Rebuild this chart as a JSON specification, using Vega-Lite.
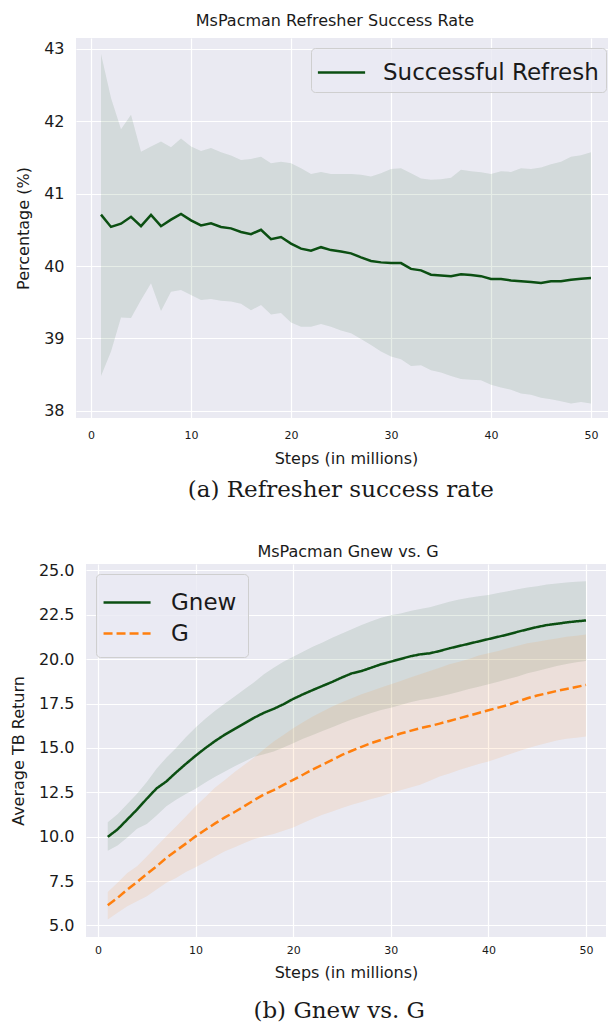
{
  "$schema": "https://vega.github.io/schema/vega-lite/v6.json",
  "background": "white",
  "padding": {"left": 10, "top": 13, "right": 0, "bottom": 0},
  "columns": 1,
  "center": true,
  "spacing": 42,
  "resolve": {
    "scale": {"x": "independent", "y": "independent", "color": "independent"},
    "axis": {"x": "independent", "y": "independent"},
    "legend": {"color": "independent"}
  },
  "config": {
    "font": "DejaVu Sans",
    "view": {"stroke": null, "fill": "#EAEAF2"},
    "axis": {"domain": false, "ticks": false, "gridColor": "#ffffff", "gridWidth": 1.2, "labelColor": "#1a1a1a", "titleColor": "#1a1a1a", "titleFontWeight": "normal", "titleFontSize": 16, "labelFontSize": 16, "labelPadding": 12, "titlePadding": 12},
    "axisX": {"labelFontSize": 11, "labelPadding": 11, "titlePadding": 10},
    "title": {"fontWeight": "normal", "fontSize": 16, "color": "#1a1a1a", "offset": 9},
    "legend": {"symbolStrokeWidth": 2.5, "symbolSize": 1024, "labelFontSize": 23, "labelColor": "#1a1a1a", "labelLimit": 400, "fillColor": "rgba(234,234,242,0.8)", "strokeColor": "#cfcfcf", "cornerRadius": 4, "rowPadding": 1, "offset": 10}
  },
  "datasets": {
    "refresh": [
      {"step": 1, "mean": 40.71, "lo": 38.48, "hi": 42.93},
      {"step": 2, "mean": 40.54, "lo": 38.82, "hi": 42.32},
      {"step": 3, "mean": 40.585, "lo": 39.29, "hi": 41.89},
      {"step": 4, "mean": 40.68, "lo": 39.28, "hi": 42.09},
      {"step": 5, "mean": 40.55, "lo": 39.53, "hi": 41.58},
      {"step": 6, "mean": 40.705, "lo": 39.76, "hi": 41.65},
      {"step": 7, "mean": 40.55, "lo": 39.38, "hi": 41.72},
      {"step": 8, "mean": 40.64, "lo": 39.645, "hi": 41.64},
      {"step": 9, "mean": 40.72, "lo": 39.67, "hi": 41.76},
      {"step": 10, "mean": 40.63, "lo": 39.6, "hi": 41.65},
      {"step": 11, "mean": 40.56, "lo": 39.53, "hi": 41.59},
      {"step": 12, "mean": 40.59, "lo": 39.545, "hi": 41.63},
      {"step": 13, "mean": 40.54, "lo": 39.52, "hi": 41.57},
      {"step": 14, "mean": 40.52, "lo": 39.51, "hi": 41.525},
      {"step": 15, "mean": 40.47, "lo": 39.48, "hi": 41.465},
      {"step": 16, "mean": 40.44, "lo": 39.39, "hi": 41.48},
      {"step": 17, "mean": 40.5, "lo": 39.46, "hi": 41.51},
      {"step": 18, "mean": 40.37, "lo": 39.33, "hi": 41.42},
      {"step": 19, "mean": 40.4, "lo": 39.35, "hi": 41.44},
      {"step": 20, "mean": 40.31, "lo": 39.22, "hi": 41.42},
      {"step": 21, "mean": 40.24, "lo": 39.16, "hi": 41.35},
      {"step": 22, "mean": 40.21, "lo": 39.16, "hi": 41.27},
      {"step": 23, "mean": 40.26, "lo": 39.2, "hi": 41.3},
      {"step": 24, "mean": 40.22, "lo": 39.16, "hi": 41.27},
      {"step": 25, "mean": 40.2, "lo": 39.11, "hi": 41.27},
      {"step": 26, "mean": 40.175, "lo": 39.07, "hi": 41.27},
      {"step": 27, "mean": 40.12, "lo": 38.99, "hi": 41.26},
      {"step": 28, "mean": 40.07, "lo": 38.91, "hi": 41.235},
      {"step": 29, "mean": 40.05, "lo": 38.82, "hi": 41.28},
      {"step": 30, "mean": 40.04, "lo": 38.75, "hi": 41.34},
      {"step": 31, "mean": 40.04, "lo": 38.71, "hi": 41.35},
      {"step": 32, "mean": 39.96, "lo": 38.62, "hi": 41.28},
      {"step": 33, "mean": 39.94, "lo": 38.63, "hi": 41.21},
      {"step": 34, "mean": 39.88, "lo": 38.56, "hi": 41.19},
      {"step": 35, "mean": 39.87, "lo": 38.53, "hi": 41.2},
      {"step": 36, "mean": 39.86, "lo": 38.48, "hi": 41.22},
      {"step": 37, "mean": 39.885, "lo": 38.44, "hi": 41.33},
      {"step": 38, "mean": 39.875, "lo": 38.43, "hi": 41.31},
      {"step": 39, "mean": 39.86, "lo": 38.42, "hi": 41.295},
      {"step": 40, "mean": 39.82, "lo": 38.36, "hi": 41.27},
      {"step": 41, "mean": 39.82, "lo": 38.32, "hi": 41.31},
      {"step": 42, "mean": 39.8, "lo": 38.29, "hi": 41.3},
      {"step": 43, "mean": 39.79, "lo": 38.24, "hi": 41.35},
      {"step": 44, "mean": 39.78, "lo": 38.22, "hi": 41.34},
      {"step": 45, "mean": 39.765, "lo": 38.18, "hi": 41.36},
      {"step": 46, "mean": 39.79, "lo": 38.16, "hi": 41.405},
      {"step": 47, "mean": 39.79, "lo": 38.13, "hi": 41.44},
      {"step": 48, "mean": 39.81, "lo": 38.1, "hi": 41.51},
      {"step": 49, "mean": 39.825, "lo": 38.12, "hi": 41.53},
      {"step": 50, "mean": 39.835, "lo": 38.1, "hi": 41.57}
    ],
    "returns": [
      {"step": 1, "series": "Gnew", "mean": 9.99, "lo": 9.21, "hi": 10.82},
      {"step": 2, "series": "Gnew", "mean": 10.41, "lo": 9.51, "hi": 11.27},
      {"step": 3, "series": "Gnew", "mean": 10.97, "lo": 9.96, "hi": 11.84},
      {"step": 4, "series": "Gnew", "mean": 11.53, "lo": 10.45, "hi": 12.42},
      {"step": 5, "series": "Gnew", "mean": 12.14, "lo": 10.71, "hi": 13.08},
      {"step": 6, "series": "Gnew", "mean": 12.72, "lo": 11.2, "hi": 13.83},
      {"step": 7, "series": "Gnew", "mean": 13.11, "lo": 11.71, "hi": 14.45},
      {"step": 8, "series": "Gnew", "mean": 13.62, "lo": 12.08, "hi": 15.0},
      {"step": 9, "series": "Gnew", "mean": 14.1, "lo": 12.4, "hi": 15.6},
      {"step": 10, "series": "Gnew", "mean": 14.56, "lo": 12.7, "hi": 16.15},
      {"step": 11, "series": "Gnew", "mean": 14.99, "lo": 13.05, "hi": 16.65},
      {"step": 12, "series": "Gnew", "mean": 15.39, "lo": 13.37, "hi": 17.1},
      {"step": 13, "series": "Gnew", "mean": 15.75, "lo": 13.67, "hi": 17.5},
      {"step": 14, "series": "Gnew", "mean": 16.07, "lo": 13.97, "hi": 17.9},
      {"step": 15, "series": "Gnew", "mean": 16.38, "lo": 14.24, "hi": 18.3},
      {"step": 16, "series": "Gnew", "mean": 16.7, "lo": 14.5, "hi": 18.7},
      {"step": 17, "series": "Gnew", "mean": 16.98, "lo": 14.65, "hi": 19.15},
      {"step": 18, "series": "Gnew", "mean": 17.2, "lo": 14.8, "hi": 19.52},
      {"step": 19, "series": "Gnew", "mean": 17.46, "lo": 15.02, "hi": 19.86},
      {"step": 20, "series": "Gnew", "mean": 17.76, "lo": 15.27, "hi": 20.14},
      {"step": 21, "series": "Gnew", "mean": 18.02, "lo": 15.51, "hi": 20.42},
      {"step": 22, "series": "Gnew", "mean": 18.26, "lo": 15.73, "hi": 20.7},
      {"step": 23, "series": "Gnew", "mean": 18.49, "lo": 15.96, "hi": 20.94},
      {"step": 24, "series": "Gnew", "mean": 18.72, "lo": 16.17, "hi": 21.21},
      {"step": 25, "series": "Gnew", "mean": 18.97, "lo": 16.39, "hi": 21.45},
      {"step": 26, "series": "Gnew", "mean": 19.2, "lo": 16.6, "hi": 21.69},
      {"step": 27, "series": "Gnew", "mean": 19.33, "lo": 16.78, "hi": 21.92},
      {"step": 28, "series": "Gnew", "mean": 19.52, "lo": 16.97, "hi": 22.14},
      {"step": 29, "series": "Gnew", "mean": 19.71, "lo": 17.14, "hi": 22.33},
      {"step": 30, "series": "Gnew", "mean": 19.86, "lo": 17.27, "hi": 22.48},
      {"step": 31, "series": "Gnew", "mean": 20.01, "lo": 17.42, "hi": 22.57},
      {"step": 32, "series": "Gnew", "mean": 20.16, "lo": 17.57, "hi": 22.71},
      {"step": 33, "series": "Gnew", "mean": 20.27, "lo": 17.7, "hi": 22.82},
      {"step": 34, "series": "Gnew", "mean": 20.33, "lo": 17.78, "hi": 22.92},
      {"step": 35, "series": "Gnew", "mean": 20.46, "lo": 17.89, "hi": 23.08},
      {"step": 36, "series": "Gnew", "mean": 20.61, "lo": 18.02, "hi": 23.23},
      {"step": 37, "series": "Gnew", "mean": 20.74, "lo": 18.17, "hi": 23.36},
      {"step": 38, "series": "Gnew", "mean": 20.87, "lo": 18.32, "hi": 23.46},
      {"step": 39, "series": "Gnew", "mean": 21.0, "lo": 18.45, "hi": 23.55},
      {"step": 40, "series": "Gnew", "mean": 21.13, "lo": 18.58, "hi": 23.62},
      {"step": 41, "series": "Gnew", "mean": 21.26, "lo": 18.73, "hi": 23.72},
      {"step": 42, "series": "Gnew", "mean": 21.39, "lo": 18.88, "hi": 23.83},
      {"step": 43, "series": "Gnew", "mean": 21.54, "lo": 19.03, "hi": 23.94},
      {"step": 44, "series": "Gnew", "mean": 21.68, "lo": 19.2, "hi": 24.04},
      {"step": 45, "series": "Gnew", "mean": 21.81, "lo": 19.33, "hi": 24.11},
      {"step": 46, "series": "Gnew", "mean": 21.92, "lo": 19.48, "hi": 24.21},
      {"step": 47, "series": "Gnew", "mean": 21.99, "lo": 19.61, "hi": 24.26},
      {"step": 48, "series": "Gnew", "mean": 22.07, "lo": 19.73, "hi": 24.32},
      {"step": 49, "series": "Gnew", "mean": 22.13, "lo": 19.82, "hi": 24.36},
      {"step": 50, "series": "Gnew", "mean": 22.18, "lo": 19.9, "hi": 24.39},
      {"step": 1, "series": "G", "mean": 6.14, "lo": 5.33, "hi": 6.89},
      {"step": 2, "series": "G", "mean": 6.55, "lo": 5.71, "hi": 7.4},
      {"step": 3, "series": "G", "mean": 7.02, "lo": 6.08, "hi": 7.96},
      {"step": 4, "series": "G", "mean": 7.45, "lo": 6.36, "hi": 8.33},
      {"step": 5, "series": "G", "mean": 7.9, "lo": 6.65, "hi": 8.89},
      {"step": 6, "series": "G", "mean": 8.33, "lo": 7.02, "hi": 9.46},
      {"step": 7, "series": "G", "mean": 8.8, "lo": 7.4, "hi": 10.02},
      {"step": 8, "series": "G", "mean": 9.21, "lo": 7.68, "hi": 10.58},
      {"step": 9, "series": "G", "mean": 9.61, "lo": 8.01, "hi": 11.14},
      {"step": 10, "series": "G", "mean": 10.02, "lo": 8.28, "hi": 11.71},
      {"step": 11, "series": "G", "mean": 10.39, "lo": 8.58, "hi": 12.23},
      {"step": 12, "series": "G", "mean": 10.75, "lo": 8.89, "hi": 12.77},
      {"step": 13, "series": "G", "mean": 11.09, "lo": 9.18, "hi": 13.2},
      {"step": 14, "series": "G", "mean": 11.39, "lo": 9.4, "hi": 13.64},
      {"step": 15, "series": "G", "mean": 11.72, "lo": 9.64, "hi": 14.05},
      {"step": 16, "series": "G", "mean": 12.06, "lo": 9.87, "hi": 14.46},
      {"step": 17, "series": "G", "mean": 12.38, "lo": 10.03, "hi": 14.93},
      {"step": 18, "series": "G", "mean": 12.62, "lo": 10.15, "hi": 15.36},
      {"step": 19, "series": "G", "mean": 12.92, "lo": 10.34, "hi": 15.73},
      {"step": 20, "series": "G", "mean": 13.2, "lo": 10.52, "hi": 16.11},
      {"step": 21, "series": "G", "mean": 13.49, "lo": 10.77, "hi": 16.45},
      {"step": 22, "series": "G", "mean": 13.79, "lo": 11.01, "hi": 16.77},
      {"step": 23, "series": "G", "mean": 14.05, "lo": 11.24, "hi": 17.05},
      {"step": 24, "series": "G", "mean": 14.33, "lo": 11.42, "hi": 17.33},
      {"step": 25, "series": "G", "mean": 14.61, "lo": 11.61, "hi": 17.57},
      {"step": 26, "series": "G", "mean": 14.84, "lo": 11.8, "hi": 17.8},
      {"step": 27, "series": "G", "mean": 15.06, "lo": 11.95, "hi": 18.02},
      {"step": 28, "series": "G", "mean": 15.27, "lo": 12.12, "hi": 18.21},
      {"step": 29, "series": "G", "mean": 15.45, "lo": 12.27, "hi": 18.4},
      {"step": 30, "series": "G", "mean": 15.62, "lo": 12.46, "hi": 18.58},
      {"step": 31, "series": "G", "mean": 15.81, "lo": 12.62, "hi": 18.77},
      {"step": 32, "series": "G", "mean": 15.96, "lo": 12.77, "hi": 18.96},
      {"step": 33, "series": "G", "mean": 16.11, "lo": 12.92, "hi": 19.15},
      {"step": 34, "series": "G", "mean": 16.23, "lo": 13.15, "hi": 19.33},
      {"step": 35, "series": "G", "mean": 16.37, "lo": 13.39, "hi": 19.52},
      {"step": 36, "series": "G", "mean": 16.52, "lo": 13.56, "hi": 19.71},
      {"step": 37, "series": "G", "mean": 16.67, "lo": 13.75, "hi": 19.86},
      {"step": 38, "series": "G", "mean": 16.82, "lo": 13.92, "hi": 20.01},
      {"step": 39, "series": "G", "mean": 16.97, "lo": 14.09, "hi": 20.2},
      {"step": 40, "series": "G", "mean": 17.12, "lo": 14.24, "hi": 20.33},
      {"step": 41, "series": "G", "mean": 17.27, "lo": 14.42, "hi": 20.46},
      {"step": 42, "series": "G", "mean": 17.42, "lo": 14.61, "hi": 20.61},
      {"step": 43, "series": "G", "mean": 17.61, "lo": 14.8, "hi": 20.76},
      {"step": 44, "series": "G", "mean": 17.8, "lo": 14.98, "hi": 20.89},
      {"step": 45, "series": "G", "mean": 17.95, "lo": 15.13, "hi": 20.98},
      {"step": 46, "series": "G", "mean": 18.08, "lo": 15.28, "hi": 21.08},
      {"step": 47, "series": "G", "mean": 18.21, "lo": 15.42, "hi": 21.17},
      {"step": 48, "series": "G", "mean": 18.32, "lo": 15.51, "hi": 21.26},
      {"step": 49, "series": "G", "mean": 18.43, "lo": 15.58, "hi": 21.32},
      {"step": 50, "series": "G", "mean": 18.55, "lo": 15.64, "hi": 21.39}
    ]
  },
  "concat": [
    {
      "title": {"text": "(a) Refresher success rate", "orient": "bottom", "font": "DejaVu Serif", "fontSize": 23, "anchor": "middle", "offset": 13, "dx": 25},
      "resolve": {"legend": {"color": "independent"}},
      "vconcat": [
        {
          "width": 540,
          "height": 380,
          "title": {"text": "MsPacman Refresher Success Rate", "dx": -11},
          "data": {"name": "refresh"},
          "layer": [
            {
              "mark": {"type": "area", "color": "#0b4f12", "opacity": 0.1, "clip": true},
              "encoding": {
                "x": {"field": "step", "type": "quantitative", "scale": {"domain": [-1.5, 52.5], "nice": false, "zero": false}, "axis": {"values": [0, 10, 20, 30, 40, 50], "title": "Steps (in millions)"}},
                "y": {"field": "lo", "type": "quantitative", "scale": {"domain": [37.9, 43.15], "nice": false, "zero": false}, "axis": {"values": [38, 39, 40, 41, 42, 43], "format": "d", "title": "Percentage (%)"}},
                "y2": {"field": "hi"}
              }
            },
            {
              "mark": {"type": "line", "strokeWidth": 2.5, "clip": true},
              "encoding": {
                "x": {"field": "step", "type": "quantitative"},
                "y": {"field": "mean", "type": "quantitative"},
                "color": {"datum": "Successful Refresh", "type": "nominal", "scale": {"range": ["#0b4f12"]}, "legend": {"title": null, "orient": "top-right", "padding": 7, "symbolType": "M-1.1,0H1.85", "labelOffset": 30}}
              }
            }
          ]
        }
      ]
    },
    {
      "title": {"text": "(b) Gnew vs. G", "orient": "bottom", "font": "DejaVu Serif", "fontSize": 23, "anchor": "middle", "offset": 20, "dx": 31},
      "resolve": {"legend": {"color": "independent"}},
      "vconcat": [
        {
          "width": 520,
          "height": 373,
          "title": {"text": "MsPacman Gnew vs. G", "offset": 2, "dx": 2},
          "data": {"name": "returns"},
          "layer": [
            {
              "mark": {"type": "area", "opacity": 0.1, "clip": true},
              "encoding": {
                "x": {"field": "step", "type": "quantitative", "scale": {"domain": [-1.23, 52.05], "nice": false, "zero": false}, "axis": {"values": [0, 10, 20, 30, 40, 50], "title": "Steps (in millions)", "labelPadding": 7, "titlePadding": 9}},
                "y": {"field": "lo", "type": "quantitative", "scale": {"domain": [4.35, 25.36], "nice": false, "zero": false}, "axis": {"values": [5, 7.5, 10, 12.5, 15, 17.5, 20, 22.5, 25], "format": ".1f", "title": "Average TB Return"}},
                "y2": {"field": "hi"},
                "detail": {"field": "series", "type": "nominal"},
                "fill": {"condition": {"test": "datum.series === 'G'", "value": "#ff7f0e"}, "value": "#0b4f12"}
              }
            },
            {
              "mark": {"type": "line", "strokeWidth": 2.5, "clip": true},
              "encoding": {
                "x": {"field": "step", "type": "quantitative"},
                "y": {"field": "mean", "type": "quantitative"},
                "color": {"field": "series", "type": "nominal", "scale": {"domain": ["Gnew", "G"], "range": ["#0b4f12", "#ff7f0e"]}, "legend": {"title": null, "orient": "top-left", "padding": 11, "symbolType": "M-1.31,0H1.63", "labelOffset": 29, "encode": {"symbols": {"update": {"strokeDash": {"signal": "datum.value === 'G' ? [9, 4] : [1, 0]"}}}}}},
                "strokeDash": {"condition": {"test": "datum.series === 'G'", "value": [9, 4]}, "value": [1, 0]}
              }
            }
          ]
        }
      ]
    }
  ]
}
